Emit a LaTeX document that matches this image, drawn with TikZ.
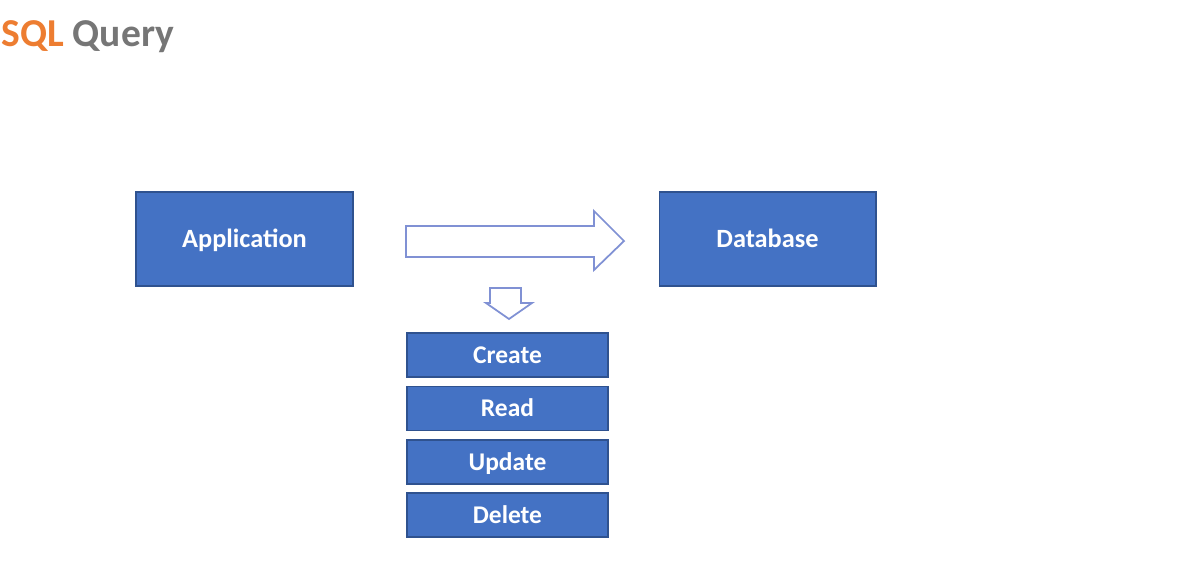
\documentclass[tikz,border=0pt]{standalone}
\usepackage{fontspec}
\setmainfont{Carlito}
\usetikzlibrary{positioning}
\definecolor{boxblue}{RGB}{68,114,196}
\definecolor{boxedge}{RGB}{47,82,143}
\definecolor{arrowline}{RGB}{128,145,212}
\definecolor{titleorange}{RGB}{237,125,49}
\definecolor{titlegray}{RGB}{118,118,118}
\tikzset{block/.style={draw=boxedge, fill=boxblue, text=white, font=\fontsize{15}{17}\selectfont\bfseries, minimum width=4.34cm, minimum height=1.88cm, line width=0.6pt, text height=9.7pt, text depth=0pt},
 crud/.style={block, minimum width=4.02cm, minimum height=0.88cm, font=\fontsize{14.5}{16}\selectfont\bfseries, text height=9.3pt},
 hollow/.style={draw=arrowline, fill=white, line width=1pt, line join=miter}}

\begin{document}
\begin{tikzpicture}[x=0.02cm, y=-0.02cm]
  \useasboundingbox (0,0) rectangle (1177,588);
  % title
  \node[anchor=base west, inner sep=0pt, font=\fontsize{22.5}{25}\selectfont\bfseries] (title) at (1,47)
    {\textcolor{titleorange}{SQL} \textcolor{titlegray}{Query}};
  % the two ends
  \node[block] (app) at (244.5,239) {Application};
  \node[block] (db) at (767.5,239) {Database};
  % block arrow between them
  \draw[hollow] (406,226) -- (594,226) -- (594,211) -- (624,241) -- (594,270) --
        (594,257) -- (406,257) -- cycle;
  % small arrow down to the list
  \draw[hollow] (490,288) -- (521,288) -- (521,303) -- (532,303) -- (509,319) --
        (486,303) -- (490,303) -- cycle;
  % the four operations
  \node[crud] (create) at (507.5,355) {Create};
  \node[crud] (read) at (507.5,408.5) {Read};
  \node[crud] (update) at (507.5,462) {Update};
  \node[crud] (delete) at (507.5,515) {Delete};
\end{tikzpicture}
\end{document}
